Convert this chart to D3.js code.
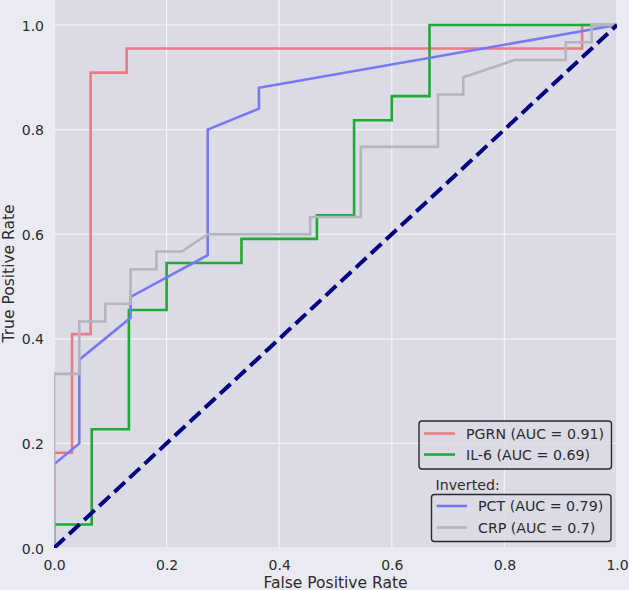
<!DOCTYPE html>
<html>
<head>
<meta charset="utf-8">
<script src="https://cdn.jsdelivr.net/npm/d3@7"></script>
<style>
  html, body { margin: 0; padding: 0; background: #eaeaf2; }
  svg { display: block; font-family: "DejaVu Sans", sans-serif; }
</style>
</head>
<body>
<svg id="chart" width="629" height="590"></svg>
<script>
// ---- data ----
const xTicks = [0.0, 0.2, 0.4, 0.6, 0.8, 1.0];
const yTicks = [0.0, 0.2, 0.4, 0.6, 0.8, 1.0];

const pgrnFpr = [0, 0, 0.032, 0.032, 0.065, 0.065, 0.129, 0.129, 0.938, 0.938, 1];
const pgrnTpr = [0, 0.182, 0.182, 0.409, 0.409, 0.909, 0.909, 0.955, 0.955, 1, 1];

const il6Fpr = [0, 0, 0.067, 0.067, 0.133, 0.133, 0.2, 0.2, 0.333, 0.333, 0.467, 0.467, 0.533, 0.533, 0.6, 0.6, 0.667, 0.667, 1];
const il6Tpr = [0, 0.045, 0.045, 0.227, 0.227, 0.455, 0.455, 0.545, 0.545, 0.591, 0.591, 0.636, 0.636, 0.818, 0.818, 0.864, 0.864, 1, 1];

const pctFpr = [0, 0, 0.045, 0.045, 0.136, 0.136, 0.273, 0.273, 0.364, 0.364, 1];
const pctTpr = [0, 0.16, 0.2, 0.36, 0.44, 0.48, 0.56, 0.8, 0.84, 0.88, 1];

const crpFpr = [0, 0, 0.045, 0.045, 0.091, 0.091, 0.136, 0.136, 0.182, 0.182, 0.227, 0.273, 0.455, 0.455, 0.545, 0.545, 0.682, 0.682, 0.727, 0.727, 0.818, 0.909, 0.909, 0.955, 0.955, 1];
const crpTpr = [0, 0.333, 0.333, 0.433, 0.433, 0.467, 0.467, 0.533, 0.533, 0.567, 0.567, 0.6, 0.6, 0.633, 0.633, 0.767, 0.767, 0.867, 0.867, 0.9, 0.933, 0.933, 0.967, 0.967, 1, 1];

const chanceFpr = [0, 1];
const chanceTpr = [0, 1];

const mainLegend = ["PGRN (AUC = 0.91)", "IL-6 (AUC = 0.69)"];
const invertedLegend = ["PCT (AUC = 0.79)", "CRP (AUC = 0.7)"];
const invertedTitle = "Inverted:";
const xLabel = "False Positive Rate";
const yLabel = "True Positive Rate";

// ---- layout ----
const svg = d3.select("#chart");
const W = 629, H = 590;
const plot = { left: 54, right: 617, bottom: 548 };
const x = d3.scaleLinear().domain([0, 1]).range([plot.left, plot.right]);
const y = d3.scaleLinear().domain([0, 1]).range([plot.bottom, 25]);
const yTop = y(1.05);

const colors = {
  pgrn: "#e97c87",
  il6: "#1faa32",
  pct: "#7878f2",
  crp: "#b4b4bb",
  chance: "#000080"
};
const textColor = "#2b2b2b";

svg.append("rect").attr("width", W).attr("height", H).attr("fill", "#eaeaf2");

svg.append("defs").append("clipPath").attr("id", "clip")
  .append("rect")
  .attr("x", plot.left).attr("y", yTop)
  .attr("width", plot.right - plot.left).attr("height", plot.bottom - yTop);

svg.append("rect")
  .attr("x", plot.left).attr("y", yTop)
  .attr("width", plot.right - plot.left).attr("height", plot.bottom - yTop)
  .attr("fill", "#dbdbe5");

// grid
const grid = svg.append("g").attr("clip-path", "url(#clip)");
grid.selectAll(".gx").data(xTicks).join("line")
  .attr("x1", d => x(d)).attr("x2", d => x(d))
  .attr("y1", yTop).attr("y2", plot.bottom)
  .attr("stroke", "#f4f4f8").attr("stroke-width", 1.2);
grid.selectAll(".gy").data(yTicks).join("line")
  .attr("x1", plot.left).attr("x2", plot.right)
  .attr("y1", d => y(d)).attr("y2", d => y(d))
  .attr("stroke", "#f4f4f8").attr("stroke-width", 1.2);

// axes (labels only)
const xAxis = d3.axisBottom(x).tickValues(xTicks).tickFormat(d3.format(".1f")).tickSize(0).tickPadding(0);
const gx = svg.append("g").attr("transform", `translate(0,${plot.bottom})`).call(xAxis);
gx.select(".domain").remove();
gx.selectAll("text").attr("font-size", 14).attr("fill", textColor)
  .attr("font-family", "DejaVu Sans").attr("dy", null).attr("y", 22);

const yAxis = d3.axisLeft(y).tickValues(yTicks).tickFormat(d3.format(".1f")).tickSize(0).tickPadding(0);
const gy = svg.append("g").attr("transform", `translate(${plot.left},0)`).call(yAxis);
gy.select(".domain").remove();
gy.selectAll("text").attr("font-size", 14).attr("fill", textColor)
  .attr("font-family", "DejaVu Sans").attr("x", -10).attr("dy", "0.36em");

svg.append("text")
  .attr("x", (plot.left + plot.right) / 2).attr("y", 587.5)
  .attr("text-anchor", "middle").attr("font-size", 15.5).attr("fill", textColor)
  .text(xLabel);
svg.append("text")
  .attr("transform", `translate(14,${(yTop + plot.bottom) / 2}) rotate(-90)`)
  .attr("text-anchor", "middle").attr("font-size", 15.5).attr("fill", textColor)
  .text(yLabel);

// curves
const line = d3.line().x(d => x(d[0])).y(d => y(d[1]));
const series = [
  { fpr: pgrnFpr, tpr: pgrnTpr, color: colors.pgrn },
  { fpr: il6Fpr, tpr: il6Tpr, color: colors.il6 },
  { fpr: pctFpr, tpr: pctTpr, color: colors.pct },
  { fpr: crpFpr, tpr: crpTpr, color: colors.crp }
];
const curves = svg.append("g").attr("clip-path", "url(#clip)");
series.forEach(s => {
  curves.append("path")
    .datum(d3.zip(s.fpr, s.tpr))
    .attr("d", line)
    .attr("fill", "none")
    .attr("stroke", s.color)
    .attr("stroke-width", 2.6)
    .attr("stroke-linejoin", "miter");
});
curves.append("path")
  .datum(d3.zip(chanceFpr, chanceTpr))
  .attr("d", line)
  .attr("fill", "none")
  .attr("stroke", colors.chance)
  .attr("stroke-width", 4)
  .attr("stroke-dasharray", "14.4,6.2");

// legends
function legendBox(x0, y0, w, h) {
  svg.append("rect")
    .attr("x", x0).attr("y", y0).attr("width", w).attr("height", h)
    .attr("rx", 3).attr("ry", 3)
    .attr("fill", "#dbdbe5").attr("fill-opacity", 0.8)
    .attr("stroke", "#2a2a2a").attr("stroke-width", 1.4);
}
function legendEntries(items, cols, lx0, lx1, tx, ys) {
  items.forEach((t, i) => {
    svg.append("line")
      .attr("x1", lx0).attr("x2", lx1).attr("y1", ys[i]).attr("y2", ys[i])
      .attr("stroke", cols[i]).attr("stroke-width", 2.6);
    svg.append("text")
      .attr("x", tx).attr("y", ys[i]).attr("dy", "0.36em")
      .attr("font-size", 14.2).attr("fill", textColor)
      .text(t);
  });
}
legendBox(419, 421, 192.5, 48);
legendEntries(mainLegend, [colors.pgrn, colors.il6], 424, 455, 466, [433.5, 454.5]);

svg.append("text").attr("x", 435.5).attr("y", 485).attr("dy", "0.36em")
  .attr("font-size", 14.2).attr("fill", textColor).text(invertedTitle);

legendBox(431.5, 494.5, 179.5, 47);
legendEntries(invertedLegend, [colors.pct, colors.crp], 436.5, 467, 478, [506, 527.5]);
</script>
</body>
</html>
